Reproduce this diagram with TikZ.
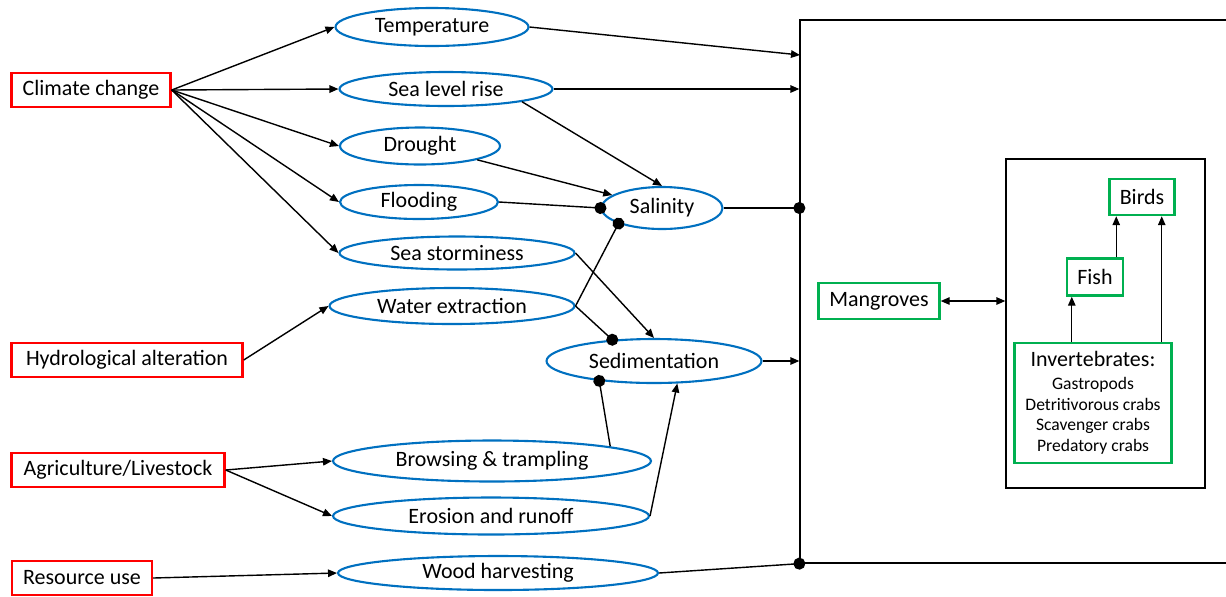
\documentclass[tikz,border=0pt]{standalone}
\usepackage{fontspec}
\setmainfont{Carlito}
\usetikzlibrary{arrows.meta,shapes.geometric,calc}
\definecolor{eblue}{RGB}{0,112,192}
\definecolor{dred}{RGB}{255,0,0}
\definecolor{dgreen}{RGB}{0,176,80}
\newcommand{\smallsp}{\fontsize{10}{11.8}\selectfont}
\tikzset{
  driver/.style={draw=dred,line width=1.4pt,inner sep=0pt,minimum height=0.69cm},
  effect/.style={ellipse,draw=eblue,line width=1.2pt,inner sep=0pt},
  biota/.style={draw=dgreen,line width=1.4pt,inner sep=0pt},
  arr/.style={line width=0.8pt,-{Triangle[length=1.8mm,width=1.5mm]}},
  arrboth/.style={line width=0.8pt,{Triangle[length=1.8mm,width=1.5mm]}-{Triangle[length=1.8mm,width=1.5mm]}},
  dotend/.style={line width=0.8pt,-{Circle[length=2.4mm]},shorten >=-1.2mm},
}
\begin{document}
\begin{tikzpicture}[x=0.02cm,y=-0.02cm,font=\fontsize{12.5}{14}\selectfont]
\useasboundingbox (0,0) rectangle (1226,596);
\clip (0,0) rectangle (1226,596);
% drivers
\node[driver,minimum width=3.18cm] (cc) at (91,90) {Climate change};
\node[driver,minimum width=4.62cm] (hyd) at (127,360) {Hydrological alteration};
\node[driver,minimum width=4.26cm] (agr) at (118,470) {Agriculture/Livestock};
\node[driver,minimum width=2.8cm] (res) at (82,578) {Resource use};
% pressures
\node[effect,minimum width=3.86cm,minimum height=0.76cm] (temp) at (432,27) {Temperature};
\node[effect,minimum width=4.26cm,minimum height=0.68cm] (slr) at (446,89) {Sea level rise};
\node[effect,minimum width=3.2cm,minimum height=0.74cm] (dro) at (420,146) {Drought};
\node[effect,minimum width=3.16cm,minimum height=0.68cm] (flo) at (419,202) {Flooding};
\node[effect,minimum width=4.7cm,minimum height=0.66cm] (sst) at (457,253) {Sea storminess};
\node[effect,minimum width=4.9cm,minimum height=0.72cm] (wex) at (452,306) {Water extraction};
\node[effect,minimum width=2.42cm,minimum height=0.84cm] (sal) at (662,208) {Salinity};
\node[effect,minimum width=4.3cm,minimum height=0.88cm] (sed) at (654,361) {Sedimentation};
\node[effect,minimum width=6.36cm,minimum height=0.82cm] (brw) at (492,461) {Browsing \& trampling};
\node[effect,minimum width=6.32cm,minimum height=0.74cm] (ero) at (491,516) {Erosion and runoff};
\node[effect,minimum width=6.4cm,minimum height=0.68cm] (wood) at (498,573) {Wood harvesting};
% ecosystem
\node[draw,line width=0.8pt,inner sep=0pt,minimum width=8.8cm,minimum height=10.86cm] (eco) at (1020,291.5) {};
\node[draw,line width=0.8pt,inner sep=0pt,minimum width=3.98cm,minimum height=6.58cm] (web) at (1105.5,323.5) {};
\node[biota,minimum width=2.42cm,minimum height=0.72cm] (mang) at (879,301) {Mangroves};
\node[biota,minimum width=1.3cm,minimum height=0.72cm] (bird) at (1142,197) {Birds};
\node[biota,minimum width=1.12cm,minimum height=0.74cm] (fish) at (1095,277) {Fish};
\node[biota,minimum width=3.14cm,minimum height=2.4cm,align=center,font=\smallsp] (inv) at (1093,403)
  {{\fontsize{12.5}{14}\selectfont Invertebrates:}\\[1pt]Gastropods\\Detritivorous crabs\\Scavenger crabs\\Predatory crabs};
\coordinate (tin) at (800,55);
% links
\foreach \t in {temp,slr,dro,flo,sst}
  \draw[arr] (cc.east) -- (\t.west);
\draw[arr] (hyd.east) -- (wex.west);
\draw[arr] (agr.east) -- (brw.west);
\draw[arr] (agr.east) -- (ero.west);
\draw[arr] (res.east) -- (wood.west);
\draw[arr] (temp.east) -- (tin);
\draw[arr] (slr.east) -- (slr.east -| eco.west);
\draw[arr] (slr.south east) -- (sal.north);
\draw[arr] (dro.south east) -- (sal);
\draw[dotend] (flo.east) -- (sal.west);
\draw[dotend] (wex.east) -- (sal.south west);
\draw[dotend] (sal.east) -- (sal.east -| eco.west);
\draw[arr] (sst.east) -- (sed.north);
\draw[dotend] (wex.east) -- (sed.153);
\draw[dotend] (brw.7) -- (sed.200);
\draw[arr] (ero.east) -- (sed.-44);
\draw[arr] (sed.east) -- (sed.east -| eco.west);
\draw[dotend] (wood.east) -- (eco.south west);
\draw[arrboth] (mang.east) -- (mang.east -| web.west);
\draw[arr] ([xshift=0.12cm]fish.south west |- inv.north) -- ([xshift=0.12cm]fish.south west);
\draw[arr] ([xshift=-0.16cm]fish.north east) -- ([xshift=-0.16cm]fish.north east |- bird.south);
\draw[arr] ([xshift=-0.28cm]bird.south east |- inv.north) -- ([xshift=-0.28cm]bird.south east);
\end{tikzpicture}
\end{document}
